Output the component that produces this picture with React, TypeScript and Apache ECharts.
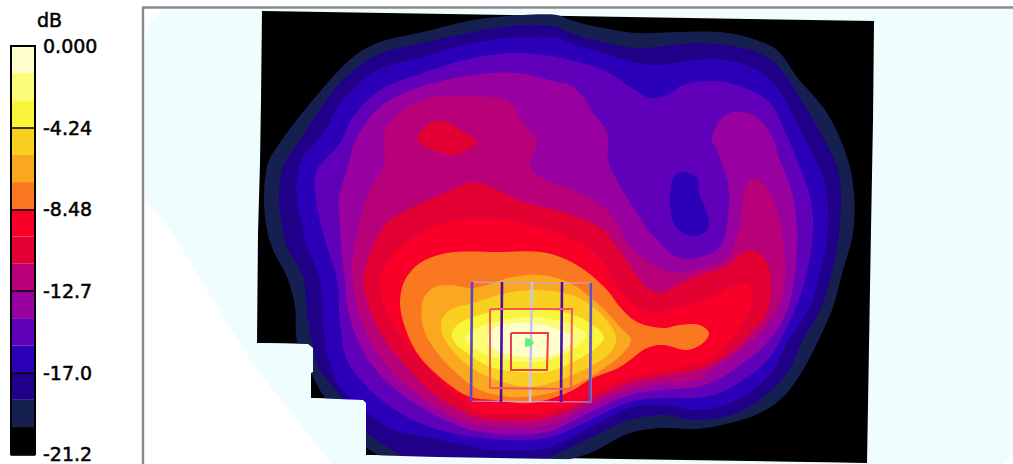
import React, { useEffect, useRef } from "react";
import * as echarts from "echarts";

const W = 1013;
const H = 464;

const legendTicks = ["0.000", "-4.24", "-8.48", "-12.7", "-17.0", "-21.2"];
const dbMin = -21.2;
const dbStep = 4.24;
const levelColors = [
  "#FFFFCC", "#FCFC78", "#F9F53A", "#F9D020", "#F9A820", "#F97820", "#F80028", "#E30032",
  "#B80078", "#9800A0", "#6000B8", "#2C00B8", "#200088", "#162050", "#000000",
];

type P = number[][];

const paleArea: P = [[163,9],[1013,9],[1013,455],[1003,464],[333,464],[257,370],[207,290],[173,233],[160,217],[145,200],[145,40],[150,25]];
const blackArea: P = [[262,11],[874,21],[873,120],[871,230],[867,463],[366,455],[366,403],[363,400],[311,398],[311,373],[313,372],[313,348],[308,344],[257,343],[258,233],[260,163],[261,100]];
const stepMask: P = [[240,343],[257,343],[308,344],[313,348],[313,372],[311,373],[311,398],[363,400],[366,403],[366,455],[437,457],[497,458],[557,459],[617,460],[683,461],[853,463],[867,463],[867,465],[332,465]];

const level13: P = [[264,200],[268,163],[277,147],[307,107],[353,57],[380,42],[423,32],[473,20],[523,15],[557,15],[570,20],[603,28],[637,33],[680,32],[720,32],[750,38],[777,50],[797,77],[827,113],[847,157],[854,193],[853,233],[843,270],[833,307],[820,337],[803,370],[783,397],[760,413],[730,423],[697,429],[663,428],[630,433],[590,453],[557,462],[480,472],[400,470],[380,456],[366,447],[325,398],[311,373],[297,342],[295,307],[287,277],[273,250],[267,230]];
const level12: P = [[279,200],[283,167],[300,140],[340,83],[377,55],[423,43],[473,32],[523,25],[557,27],[570,33],[603,42],[637,48],[697,43],[737,47],[767,57],[783,72],[803,103],[823,137],[837,167],[841,193],[839,233],[830,280],[820,310],[803,340],[787,373],[763,397],[737,413],[697,420],[663,415],[630,420],[590,438],[547,458],[500,470],[420,470],[400,455],[366,432],[342,398],[320,370],[313,347],[307,313],[303,277],[287,247],[283,230]];
const level11: P = [[297,200],[297,177],[303,157],[323,133],[343,100],[373,72],[423,57],[473,43],[523,37],[557,38],[570,43],[603,53],[637,63],[660,65],[693,60],[727,60],[757,70],[777,87],[790,110],[807,143],[823,177],[828,207],[827,240],[820,273],[810,307],[787,343],[773,370],[757,387],[730,403],[697,410],[663,405],[630,408],[590,428],[547,448],[507,451],[480,448],[427,437],[393,430],[367,412],[340,387],[327,353],[323,320],[320,280],[307,247],[303,230]];
const level10: P = [[315,193],[317,170],[340,143],[353,117],[380,90],[423,73],[473,58],[517,53],[557,57],[570,60],[603,70],[630,87],[650,98],[667,95],[683,85],[713,81],[743,87],[770,103],[783,127],[797,160],[810,197],[813,233],[803,287],[787,327],[770,357],[753,373],[720,393],[697,398],[663,398],[630,402],[590,420],[547,438],[480,438],[433,428],[400,413],[367,387],[347,360],[340,323],[337,280],[325,240]];
const level9: P = [[339,197],[347,170],[357,137],[380,107],[417,88],[473,75],[517,73],[557,82],[570,85],[583,97],[593,113],[607,132],[608,160],[613,173],[637,213],[657,240],[677,257],[700,257],[720,247],[728,217],[728,183],[723,167],[717,150],[712,140],[720,120],[733,112],[753,115],[770,133],[780,160],[792,193],[797,227],[797,243],[793,287],[783,320],[763,347],[743,363],[717,380],[697,387],[663,390],[630,395],[590,412],[547,432],[480,432],[445,420],[410,400],[380,375],[360,345],[348,310],[345,280],[342,257],[340,225]];
const pocket11: P = [[680,172],[697,178],[699,193],[707,213],[708,228],[697,236],[683,233],[673,222],[670,203],[673,178]];
const level8: P = [[353,280],[352,270],[355,243],[362,213],[370,190],[385,163],[383,143],[387,127],[403,110],[430,98],[490,97],[510,103],[523,123],[537,142],[530,163],[540,177],[580,193],[600,205],[613,217],[630,247],[650,263],[677,273],[700,268],[727,257],[738,233],[743,200],[747,183],[757,178],[770,193],[780,220],[784,250],[785,283],[777,310],[757,337],[737,353],[715,368],[697,380],[663,383],[630,390],[590,405],[547,425],[480,425],[455,418],[425,400],[395,375],[372,345],[358,310]];
const level7: P = [[363,280],[365,270],[373,247],[387,223],[413,207],[447,192],[473,182],[497,190],[523,202],[563,212],[600,228],[617,247],[633,270],[647,287],[660,293],[677,285],[700,275],[723,268],[743,253],[753,250],[767,263],[771,283],[767,313],[747,337],[730,353],[703,368],[663,376],[630,383],[590,400],[547,418],[480,418],[460,410],[435,395],[405,365],[385,340],[370,310]];
const blob7: P = [[418,137],[430,123],[447,122],[460,130],[477,142],[470,148],[453,155],[433,150],[420,143]];
const level6: P = [[380,280],[387,263],[400,247],[430,228],[457,220],[480,219],[507,220],[547,230],[570,238],[587,247],[600,258],[613,280],[630,302],[650,312],[680,307],[713,297],[740,283],[750,288],[752,303],[743,323],[730,340],[710,358],[680,368],[630,377],[590,395],[547,412],[507,414],[480,412],[455,395],[425,365],[400,335],[386,310]];
const level5: P = [[405,280],[420,263],[447,253],[497,252],[547,253],[580,267],[607,290],[620,307],[637,322],[663,328],[680,325],[700,325],[709,333],[703,343],[687,350],[663,345],[647,348],[620,367],[593,378],[567,393],[530,403],[493,400],[470,397],[447,383],[420,357],[407,333],[400,303]];
const level4: P = [[423,300],[433,288],[450,285],[473,288],[513,277],[540,275],[570,283],[597,303],[620,327],[631,340],[623,353],[597,373],[570,387],[540,395],[513,397],[480,390],[453,370],[433,347],[423,327]];
const level3: P = [[442,320],[450,310],[473,303],[507,293],[540,290],[577,297],[600,313],[616,337],[610,353],[587,368],[560,380],[530,387],[497,380],[470,367],[450,347],[442,333]];
const level2: P = [[452,333],[460,323],[487,313],[523,308],[567,313],[590,323],[604,337],[597,347],[577,360],[547,372],[520,372],[490,367],[467,353],[455,343]];
const level1: P = [[465,338],[477,328],[503,320],[533,317],[567,323],[587,335],[580,343],[563,355],[537,362],[507,360],[480,352]];
const level0: P = [[487,338],[497,327],[530,323],[560,330],[573,338],[560,353],[540,357],[513,355],[493,348]];

const contourStack: [P, number][] = [
  [level13, 13], [level12, 12], [level11, 11], [level10, 10], [level9, 9], [pocket11, 11], [level8, 8],
  [level7, 7], [blob7, 7], [level6, 6], [level5, 5], [level4, 4], [level3, 3], [level2, 2], [level1, 1], [level0, 0],
];

const probeBars: [P, string][] = [
  [[[472,282],[471,402]], "#5C44C4"],
  [[[502,282],[501,402]], "#4A0CA8"],
  [[[532,282],[530,402]], "#C4C4EC"],
  [[[562,282],[561,402]], "#4A0CA8"],
  [[[591,283],[590,402]], "#5C50C0"],
];
const probeBox: P = [[472,282],[592,283],[591,402],[471,401]];
const midBox: P = [[490,309],[572,309],[571,389],[490,388]];
const innerBox: P = [[511,333],[548,333],[547,370],[511,370]];
const peakMark: P = [[525,338],[531,339],[534,343],[531,346],[525,347]];
const frameLine: P = [[1013,7.5],[143,7.5],[143,464]];

// Rounds a closed outline for drawing only (centripetal Catmull-Rom through its points).
function rounded(pts: number[][]): number[][] {
  const out: number[][] = [];
  const n = pts.length;
  for (let i = 0; i < n; i++) {
    const p0 = pts[(i - 1 + n) % n], p1 = pts[i], p2 = pts[(i + 1) % n], p3 = pts[(i + 2) % n];
    const d = (a: number[], b: number[]) => Math.max(1e-3, Math.sqrt(Math.hypot(a[0] - b[0], a[1] - b[1])));
    const t0 = 0, t1 = t0 + d(p0, p1), t2 = t1 + d(p1, p2), t3 = t2 + d(p2, p3);
    for (let k = 0; k < 8; k++) {
      const t = t1 + ((t2 - t1) * k) / 8;
      const lerp = (a: number[], b: number[], ta: number, tb: number) => [
        a[0] + ((b[0] - a[0]) * (t - ta)) / (tb - ta),
        a[1] + ((b[1] - a[1]) * (t - ta)) / (tb - ta),
      ];
      const a1 = lerp(p0, p1, t0, t1), a2 = lerp(p1, p2, t1, t2), a3 = lerp(p2, p3, t2, t3);
      const b1 = lerp(a1, a2, t0, t2), b2 = lerp(a2, a3, t1, t3);
      out.push(lerp(b1, b2, t1, t2));
    }
  }
  return out;
}

function App() {
  const ref = useRef<HTMLDivElement>(null);
  useEffect(() => {
    document.body.style.margin = "0";
    document.body.style.background = "#fff";
    const chart = echarts.init(ref.current!, undefined, { renderer: "svg" });
    const polys = (list: { pts: P; fill: string; round?: boolean }[], z: number) => ({
      type: "custom",
      coordinateSystem: "cartesian2d",
      xAxisIndex: 0,
      yAxisIndex: 0,
      silent: true,
      z,
      data: list.map((l) => l.pts[0]),
      renderItem: (params: any, api: any) => {
        const l = list[params.dataIndex];
        const drawn = l.round ? rounded(l.pts) : l.pts;
        return {
          type: "polygon",
          shape: { points: drawn.map((p) => api.coord(p)) },
          style: { fill: l.fill, stroke: null },
        };
      },
    });
    const lines = (list: { pts: P; color: string; width: number; closed?: boolean }[], z: number) => ({
      type: "custom",
      coordinateSystem: "cartesian2d",
      xAxisIndex: 0,
      yAxisIndex: 0,
      silent: true,
      z,
      data: list.map((l) => l.pts[0]),
      renderItem: (params: any, api: any) => {
        const l = list[params.dataIndex];
        const pts = l.pts.map((p) => api.coord(p));
        return {
          type: "polyline",
          shape: { points: l.closed ? [...pts, pts[0]] : pts },
          style: { stroke: l.color, lineWidth: l.width, fill: "none" },
        };
      },
    });
    const segments = levelColors.map((c, i) => [dbMin * (i / 15), dbMin * ((i + 1) / 15), i]);
    const labelFont = { fontFamily: "DejaVu Sans", fontSize: 19, fontWeight: "normal" as const, color: "#000", textBorderColor: "#000", textBorderWidth: 0.5 };
    chart.setOption({
      animation: false,
      backgroundColor: "#ffffff",
      title: {
        text: "dB",
        left: 37,
        top: 10,
        padding: 0,
        textStyle: labelFont,
      },
      grid: [
        { left: 0, top: 0, width: W, height: H },
        { left: 11, top: 46, width: 24, height: 410 },
      ],
      xAxis: [
        { type: "value", gridIndex: 0, min: 0, max: W, show: false },
        { type: "value", gridIndex: 1, min: 0, max: 1, show: false },
      ],
      yAxis: [
        { type: "value", gridIndex: 0, min: 0, max: H, inverse: true, show: false },
        {
          type: "value",
          gridIndex: 1,
          min: dbMin,
          max: 0,
          interval: dbStep,
          position: "right",
          z: 10,
          axisLine: { show: false },
          axisTick: { show: false },
          splitLine: { show: true, lineStyle: { color: "#000", width: 1.5 } },
          axisLabel: {
            margin: 8,
            ...labelFont,
            showMinLabel: true,
            showMaxLabel: true,
            formatter: (v: number) => legendTicks[Math.round(-v / dbStep)],
          },
        },
      ],
      series: [
        polys([{ pts: paleArea, fill: "#F0FDFF" }, { pts: blackArea, fill: "#000000" }], 1),
        polys(contourStack.map(([pts, lv]) => ({ pts, fill: levelColors[lv], round: true })), 2),
        polys([{ pts: stepMask, fill: "#F0FDFF" }], 3),
        lines([{ pts: probeBox, color: "#C8A4D8", width: 1.2, closed: true }], 4),
        lines(probeBars.map(([pts, color]) => ({ pts, color, width: 2.6 })), 5),
        lines(
          [
            { pts: midBox, color: "#F05A60", width: 2, closed: true },
            { pts: innerBox, color: "#E84048", width: 2, closed: true },
          ],
          6
        ),
        polys([{ pts: peakMark, fill: "#60F080" }], 7),
        lines([{ pts: frameLine, color: "#868C8C", width: 2.4 }], 8),
        {
          type: "custom",
          coordinateSystem: "cartesian2d",
          xAxisIndex: 1,
          yAxisIndex: 1,
          silent: true,
          z: 2,
          data: segments,
          renderItem: (params: any, api: any) => {
            const a = api.coord([0, api.value(0)]);
            const b = api.coord([1, api.value(1)]);
            return {
              type: "rect",
              shape: { x: a[0], y: a[1], width: b[0] - a[0], height: b[1] - a[1] },
              style: { fill: levelColors[api.value(2)] },
            };
          },
        },
        {
          type: "custom",
          coordinateSystem: "cartesian2d",
          xAxisIndex: 1,
          yAxisIndex: 1,
          silent: true,
          z: 11,
          data: [[dbMin, 0]],
          renderItem: (_: any, api: any) => {
            const a = api.coord([0, api.value(1)]);
            const b = api.coord([1, api.value(0)]);
            return {
              type: "rect",
              shape: { x: a[0], y: a[1], width: b[0] - a[0], height: b[1] - a[1] },
              style: { fill: "none", stroke: "#000", lineWidth: 2 },
            };
          },
        },
      ],
    });
    return () => chart.dispose();
  }, []);
  return <div ref={ref} style={{ width: W, height: H, overflow: "hidden" }} />;
}

export default App;
